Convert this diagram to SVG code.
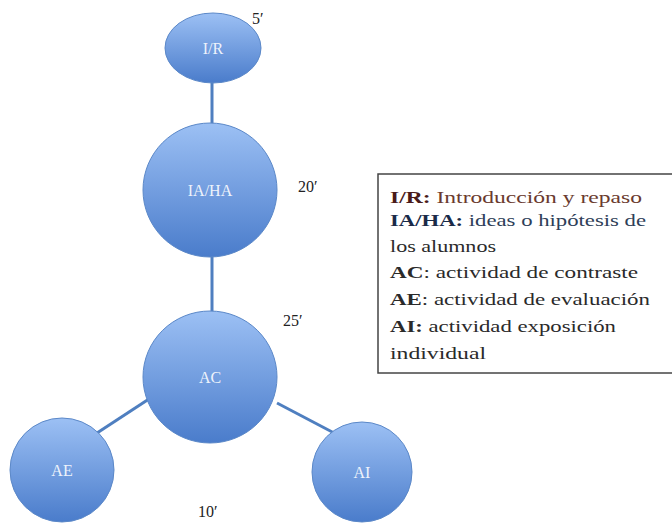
<svg xmlns="http://www.w3.org/2000/svg" width="672" height="527" viewBox="0 0 672 527">
<style>
.conn{stroke:#4f7fc0;stroke-width:3;fill:none}
.node{fill:url(#g);stroke:#5b88c8;stroke-width:1}
.nl{font-family:"Liberation Serif",serif;font-size:16px;fill:#eef3fb;text-anchor:middle}
.tm{font-family:"Liberation Serif",serif;font-size:16px;fill:#222}
.lg{font-family:"Liberation Serif",serif;font-size:17px;fill:#2a2a2a}
.b{font-weight:bold}
</style>
<defs>
<linearGradient id="g" x1="0" y1="0" x2="0" y2="1">
<stop offset="0" stop-color="#9cc0f4"/>
<stop offset="1" stop-color="#4a7ccb"/>
</linearGradient>
</defs>
<g id="connectors">
<line class="conn" x1="212" y1="82" x2="212" y2="124"/>
<line class="conn" x1="212" y1="256" x2="212" y2="314"/>
<line x1="213" y1="223" x2="213" y2="248" stroke="#c87a2a" stroke-width="2"/>
<line class="conn" x1="152" y1="397" x2="97" y2="433"/>
<line class="conn" x1="277" y1="403" x2="336" y2="434"/>
</g>
<g id="node-IR">
<ellipse class="node" cx="213" cy="48" rx="48" ry="35"/>
<text class="nl" x="213" y="54">I/R</text>
</g>
<g id="node-IAHA">
<circle class="node" cx="210" cy="190" r="67"/>
<text class="nl" x="210" y="196">IA/HA</text>
</g>
<g id="node-AC">
<ellipse class="node" cx="210" cy="377" rx="67" ry="66"/>
<text class="nl" x="210" y="383">AC</text>
</g>
<g id="node-AE">
<circle class="node" cx="62" cy="470" r="52"/>
<text class="nl" x="62" y="476">AE</text>
</g>
<g id="node-AI">
<circle class="node" cx="362" cy="472" r="50"/>
<text class="nl" x="362" y="478">AI</text>
</g>
<g id="times">
<text class="tm" x="252" y="24">5′</text>
<text class="tm" x="298" y="192">20′</text>
<text class="tm" x="283" y="326">25′</text>
<text class="tm" x="198" y="517">10′</text>
</g>
<g id="legend">
<rect x="378" y="174" width="300" height="199" fill="#fff" stroke="#444" stroke-width="1.5"/>
<text class="lg" x="390" y="203" textLength="252" lengthAdjust="spacingAndGlyphs"><tspan class="b" fill="#4a1a1a">I/R:</tspan><tspan fill="#6a3a2e"> Introducción y repaso</tspan></text>
<text class="lg" x="390" y="226" textLength="256" lengthAdjust="spacingAndGlyphs"><tspan class="b" fill="#1a2a48">IA/HA:</tspan><tspan fill="#2e3e58"> ideas o hipótesis de</tspan></text>
<text class="lg" x="390" y="252" textLength="106" lengthAdjust="spacingAndGlyphs">los alumnos</text>
<text class="lg" x="390" y="278" textLength="248" lengthAdjust="spacingAndGlyphs"><tspan class="b">AC</tspan>: actividad de contraste</text>
<text class="lg" x="390" y="305" textLength="260" lengthAdjust="spacingAndGlyphs"><tspan class="b">AE</tspan>: actividad de evaluación</text>
<text class="lg" x="390" y="332" textLength="226" lengthAdjust="spacingAndGlyphs"><tspan class="b">AI:</tspan> actividad exposición</text>
<text class="lg" x="390" y="359" textLength="96" lengthAdjust="spacingAndGlyphs">individual</text>
</g>
</svg>
